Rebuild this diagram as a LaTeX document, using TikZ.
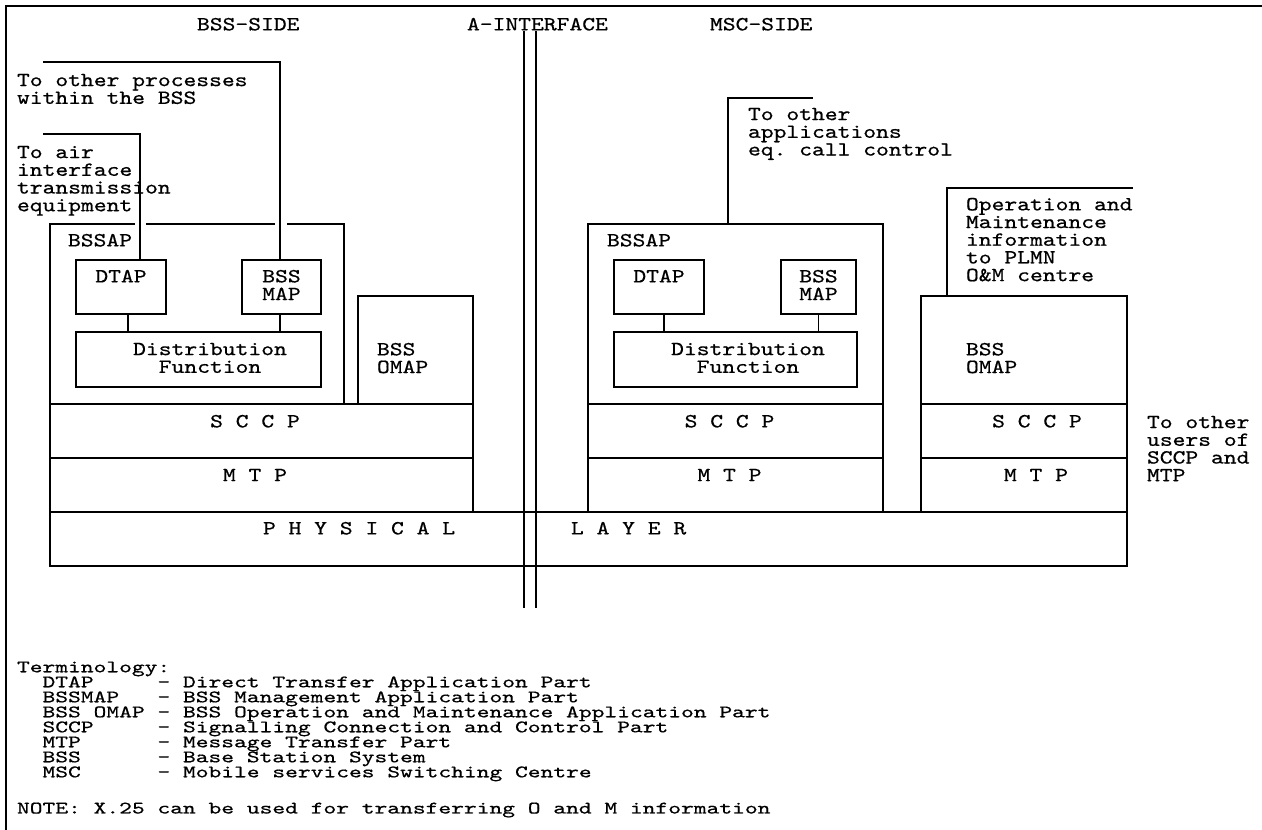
\documentclass[tikz,border=0pt]{standalone}
\usepackage{fontspec}
\setmonofont{lmmono10-regular.otf}[FakeStretch=1.22, FakeBold=0.6]
\newfontfamily\termtt{lmmono10-regular.otf}[FakeStretch=1.39, FakeBold=0.6]
\newcommand\bodyfont{\ttfamily\fontsize{20}{17.7}\selectfont\frenchspacing\lineskiplimit=-100pt\lineskip=0pt}
\newcommand\termfont{\termtt\fontsize{17.5}{15}\selectfont\frenchspacing\lineskiplimit=-100pt\lineskip=0pt}
\begin{document}
\begin{tikzpicture}[x=1pt,y=-1pt,
  box/.style={draw, line width=1.2pt, inner sep=0pt, outer sep=0pt, anchor=north west},
  txt/.style={inner sep=0pt, outer sep=0pt, font=\bodyfont, align=left, anchor=north west},
  ctxt/.style={inner sep=0pt, outer sep=0pt, font=\bodyfont, align=center, anchor=north},
  ttxt/.style={inner sep=0pt, outer sep=0pt, font=\termfont, align=left, anchor=north west},
  ln/.style={line width=1.2pt},
  gap/.style={white, line width=3pt},
  frame/.style={line width=2.4pt}]
\useasboundingbox (0,0) rectangle (1262,830);
\fill[white] (0,0) rectangle (1262,830);

% frame
\draw[frame] (6,830) -- (6,6) -- (1262,6);

% headers
\node[txt] (hBSS) at (197,17.9) {BSS-SIDE};
\node[txt] (hA) at (467,17.9) {A-INTERFACE};
\node[txt] (hMSC) at (710,17.9) {MSC-SIDE};

% A-interface double line
\coordinate (aT1) at (524,31); \coordinate (aB1) at (524,608);
\coordinate (aT2) at (536,31); \coordinate (aB2) at (536,608);
\draw[ln] (aT1) -- (aB1);
\draw[ln] (aT2) -- (aB2);

% BSS side boxes
\node[box, minimum width=294pt, minimum height=180pt] (bssapL) at (50,224) {};
\node[box, minimum width=90pt, minimum height=54pt] (dtapL) at (76,260) {};
\node[box, minimum width=79pt, minimum height=54pt] (bssmapL) at (242,260) {};
\node[box, minimum width=245pt, minimum height=55pt] (distL) at (76,332) {};
\node[box, minimum width=115pt, minimum height=108pt] (omapL) at (358,296) {};
\node[box, minimum width=423pt, minimum height=54pt] (sccpL) at (50,404) {};
\node[box, minimum width=423pt, minimum height=54pt] (mtpL) at (50,458) {};
\node[box, minimum width=1077pt, minimum height=54pt] (phys) at (50,512) {};

% MSC side boxes
\node[box, minimum width=295pt, minimum height=180pt] (bssapM) at (588,224) {};
\node[box, minimum width=90pt, minimum height=54pt] (dtapM) at (614,260) {};
\node[box, minimum width=75pt, minimum height=54pt] (bssmapM) at (781,260) {};
\node[box, minimum width=243pt, minimum height=55pt] (distM) at (614,332) {};
\node[box, minimum width=295pt, minimum height=54pt] (sccpM) at (588,404) {};
\node[box, minimum width=295pt, minimum height=54pt] (mtpM) at (588,458) {};

% O&M column
\node[box, minimum width=206pt, minimum height=108pt] (omapR) at (921,296) {};
\node[box, minimum width=206pt, minimum height=54pt] (sccpR) at (921,404) {};
\node[box, minimum width=206pt, minimum height=54pt] (mtpR) at (921,458) {};

% gaps in BSSAP top edge where feed lines cross
\draw[gap] (135,224) -- (146,224);
\draw[gap] (275,224) -- (287,224);

% feed lines
\coordinate (feedProc) at (43,62);
\coordinate (feedAir) at (43,134);
\coordinate (feedApp) at (813,98);
\coordinate (feedOM) at (1133,188);
\draw[ln] (feedProc) -| ([xshift=-1.5pt]bssmapL.north);
\draw[ln] (feedAir) -| ([xshift=19pt]dtapL.north);
\draw[ln] (feedApp) -| ([xshift=-7.5pt]bssapM.north);
\draw[ln] (feedOM) -| ([xshift=-77pt]omapR.north);

% internal connectors
\draw[ln] ([xshift=7pt]dtapL.south) -- ([xshift=7pt]dtapL.south |- distL.north);
\draw[ln] ([xshift=-1.5pt]bssmapL.south) -- ([xshift=-1.5pt]bssmapL.south |- distL.north);
\draw[ln] ([xshift=5pt]dtapM.south) -- ([xshift=5pt]dtapM.south |- distM.north);
\draw[ln] (bssmapM.south) -- (bssmapM.south |- distM.north);

% free texts
\node[txt] (tProc) at (17,73.9) {To other processes\\within the BSS};
\node[txt] (tAir) at (17,145.9) {To air\\interface\\transmission\\equipment};
\node[txt] (tApp) at (748,107.9) {To other\\applications\\eq. call control};
\node[txt] (tOM) at (966,197.9) {Operation and\\Maintenance\\information\\to PLMN\\O\&M centre};
\node[txt] (tUsers) at (1147,415.9) {To other\\users of\\SCCP and\\MTP};

% box labels BSS side
\node[txt] (lBssapL) at (68,233.9) {BSSAP};
\node[ctxt] (lDtapL) at (121,269.9) {DTAP};
\node[ctxt] (lBssmapL) at (281.5,269.9) {BSS\\MAP};
\node[ctxt] (lDistL) at (210,342.9) {Distribution\\Function};
\node[txt] (lOmapL) at (377,342.9) {BSS\\OMAP};
\node[ctxt] (lSccpL) at (255,414.9) {S C C P};
\node[ctxt] (lMtpL) at (255,468.9) {M T P};
\node[txt] (lPhys) at (263,521.9) {P H Y S I C A L};
\node[txt] (lLayer) at (571,521.9) {L A Y E R};

% box labels MSC side
\node[txt] (lBssapM) at (607,233.9) {BSSAP};
\node[ctxt] (lDtapM) at (659,269.9) {DTAP};
\node[ctxt] (lBssmapM) at (818.5,269.9) {BSS\\MAP};
\node[ctxt] (lDistM) at (748,342.9) {Distribution\\Function};
\node[ctxt] (lSccpM) at (729.5,414.9) {S C C P};
\node[ctxt] (lMtpM) at (729.5,468.9) {M T P};

% O&M column labels
\node[txt] (lOmapR) at (966,342.9) {BSS\\OMAP};
\node[ctxt] (lSccpR) at (1037,414.9) {S C C P};
\node[ctxt] (lMtpR) at (1036,468.9) {M T P};

% terminology
\node[ttxt] (term) at (17,661.6) {Terminology:\\
~~DTAP~~~~~- Direct Transfer Application Part\\
~~BSSMAP~~~- BSS Management Application Part\\
~~BSS~OMAP~- BSS Operation and Maintenance Application Part\\
~~SCCP~~~~~- Signalling Connection and Control Part\\
~~MTP~~~~~~- Message Transfer Part\\
~~BSS~~~~~~- Base Station System\\
~~MSC~~~~~~- Mobile services Switching Centre};
\node[ttxt] (note) at (17,802.6) {NOTE: X.25 can be used for transferring O and M information};
\end{tikzpicture}
\end{document}
